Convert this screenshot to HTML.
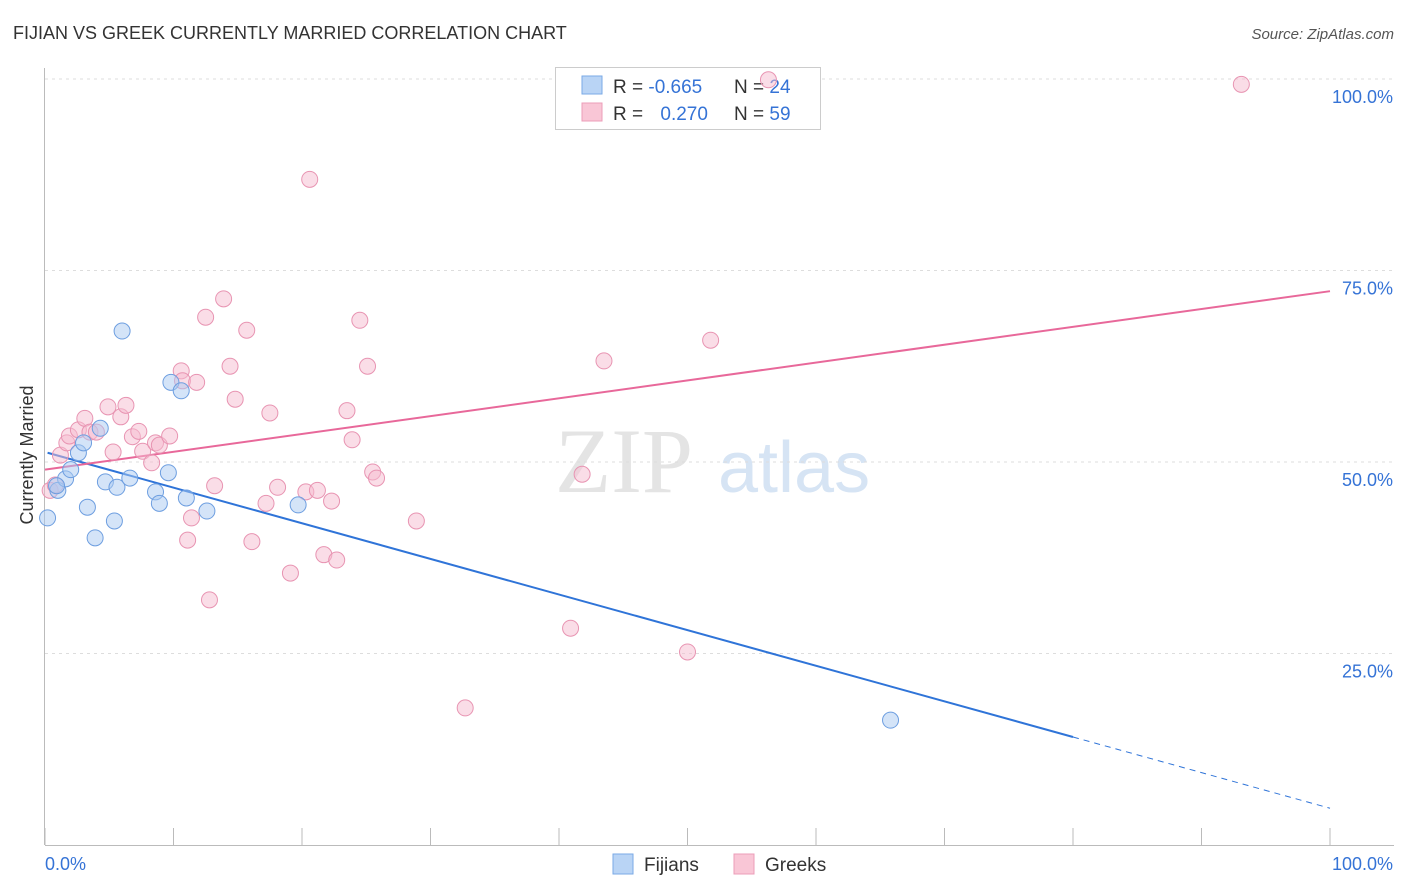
<!DOCTYPE html>
<html><head><meta charset="utf-8"><style>
body{margin:0;background:#fff;font-family:"Liberation Sans",sans-serif;}
</style></head><body>
<svg id="chart" width="1406" height="892" xmlns="http://www.w3.org/2000/svg" style="display:block">
<text x="13" y="39" font-size="18" fill="#333">FIJIAN VS GREEK CURRENTLY MARRIED CORRELATION CHART</text>
<text x="1394" y="39" font-size="15" fill="#555" text-anchor="end" font-style="italic">Source: ZipAtlas.com</text>
<text x="555" y="492" font-size="92" fill="#e4e4e4" font-family="Liberation Serif,serif">ZIP</text>
<text x="718" y="492" font-size="72" fill="#d6e4f4">atlas</text>
<text transform="translate(33,455) rotate(-90)" font-size="18" fill="#333" text-anchor="middle">Currently Married</text>
<g id="grid"></g><g id="axes"></g>
<g>
<rect x="555.5" y="67.5" width="265" height="62" fill="#fff" stroke="#ccc"/>
<rect x="582" y="76" width="20" height="18" fill="#b9d4f5" stroke="#7aaae6"/>
<rect x="582" y="103" width="20" height="18" fill="#f9c6d6" stroke="#ec9db8"/>
<text x="613" y="93" font-size="19" fill="#333">R = <tspan fill="#3573d6">-0.665</tspan></text>
<text x="734" y="93" font-size="19" fill="#333">N = <tspan fill="#3573d6">24</tspan></text>
<text x="613" y="120" font-size="19" fill="#333">R = <tspan fill="#3573d6" dx="12">0.270</tspan></text>
<text x="734" y="120" font-size="19" fill="#333">N = <tspan fill="#3573d6">59</tspan></text>
</g>
<g id="lines"></g><g id="pts"></g>
<g>
<rect x="613" y="854" width="20" height="20" fill="#b9d4f5" stroke="#7aaae6"/>
<text x="644" y="871" font-size="19" fill="#333">Fijians</text>
<rect x="734" y="854" width="20" height="20" fill="#f9c6d6" stroke="#ec9db8"/>
<text x="765" y="871" font-size="19" fill="#333">Greeks</text>
</g>
</svg>
<script>
const fijX=[0.2,1.0,1.6,2.0,2.6,3.0,3.3,3.9,4.3,4.7,5.4,5.6,6.0,6.6,8.6,8.9,9.6,9.8,10.6,11.0,12.6,19.7,65.8,0.9];
const fijY=[42.7,46.3,47.8,49.0,51.2,52.5,44.1,40.1,54.4,47.4,42.3,46.7,67.1,47.9,46.1,44.6,48.6,60.4,59.3,45.3,43.6,44.4,16.3,46.9];
const grkX=[0.4,0.8,1.2,1.7,1.9,2.6,3.1,3.5,4.0,4.9,5.3,5.9,6.3,6.8,7.3,7.6,8.3,8.6,8.9,9.7,10.6,10.7,11.4,11.1,11.8,12.5,12.8,13.2,13.9,14.4,14.8,15.7,16.1,17.2,17.5,18.1,19.1,20.3,20.6,21.2,21.7,22.3,22.7,23.5,23.9,24.5,25.1,25.5,25.8,28.9,32.7,40.9,41.8,43.5,50.0,51.8,56.3,93.1];
const grkY=[46.3,47.0,50.9,52.5,53.4,54.2,55.7,53.9,53.9,57.2,51.3,55.9,57.4,53.3,54.0,51.4,49.9,52.5,52.2,53.4,61.9,60.6,42.7,39.8,60.4,68.9,32.0,46.9,71.3,62.5,58.2,67.2,39.6,44.6,56.4,46.7,35.5,46.1,86.9,46.3,37.9,44.9,37.2,56.7,52.9,68.5,62.5,48.7,47.9,42.3,17.9,28.3,48.4,63.2,25.2,65.9,99.9,99.3];
const yTicks=[25,50,75,100];
const yTickLabels=["25.0%","50.0%","75.0%","100.0%"];
const fijTrend=[51.3,-0.465];
const grkTrend=[49.0,0.233];
const NS="http://www.w3.org/2000/svg";
const sx=v=>45+v*12.85, sy=v=>845-v*7.66;
function mk(t,a,p){const e=document.createElementNS(NS,t);for(const k in a)e.setAttribute(k,a[k]);document.getElementById(p).appendChild(e);return e;}
yTicks.forEach((t,i)=>{
 const l=mk('line',{x1:45,x2:1394,y1:sy(t),y2:sy(t),stroke:'#ddd','stroke-dasharray':'3,4'},'grid');
 
 
 const tx=mk('text',{x:1393,y:sy(t)+24,'font-size':18,fill:'#3573d6','text-anchor':'end'},'grid');
 tx.textContent=yTickLabels[i];
 
 
});
const ax=mk('line',{x1:45,x2:1394,y1:845.5,y2:845.5,stroke:'#bbb'},'axes');


const ay=mk('line',{x1:44.5,x2:44.5,y1:68,y2:845,stroke:'#bbb'},'axes');


for(let i=0;i<=10;i++){const t=mk('line',{x1:sx(i*10),x2:sx(i*10),y1:828,y2:845,stroke:'#bbb'},'axes');
 
 }
const xl=mk('text',{x:45,y:870,'font-size':18,fill:'#3573d6'},'axes');xl.textContent='0.0%';


const xr=mk('text',{x:1393,y:870,'font-size':18,fill:'#3573d6','text-anchor':'end'},'axes');xr.textContent='100.0%';


function pts(X,Y,f,s,n){X.forEach((x,i)=>{const c=mk('circle',{cx:sx(x),cy:sy(Y[i]),r:8,fill:f,'fill-opacity':0.5,stroke:s,'stroke-width':1},'pts');
 
 });}
pts(grkX,grkY,'#f6bcd0','#e894b2','greek-point');
pts(fijX,fijY,'#a9c9f2','#6d9ee0','fijian-point');
const b1=mk('line',{x1:sx(0.2),y1:sy(fijTrend[0]+fijTrend[1]*0.2),x2:sx(80),y2:sy(fijTrend[0]+fijTrend[1]*80),stroke:'#2f74d8','stroke-width':2},'lines');


const b2=mk('line',{x1:sx(80),y1:sy(fijTrend[0]+fijTrend[1]*80),x2:sx(100),y2:sy(fijTrend[0]+fijTrend[1]*100),stroke:'#2f74d8','stroke-width':1,'stroke-dasharray':'6,5'},'lines');


const p1=mk('line',{x1:sx(0),y1:sy(grkTrend[0]),x2:sx(100),y2:sy(grkTrend[0]+grkTrend[1]*100),stroke:'#e8689a','stroke-width':2},'lines');


</script>
</body></html>
